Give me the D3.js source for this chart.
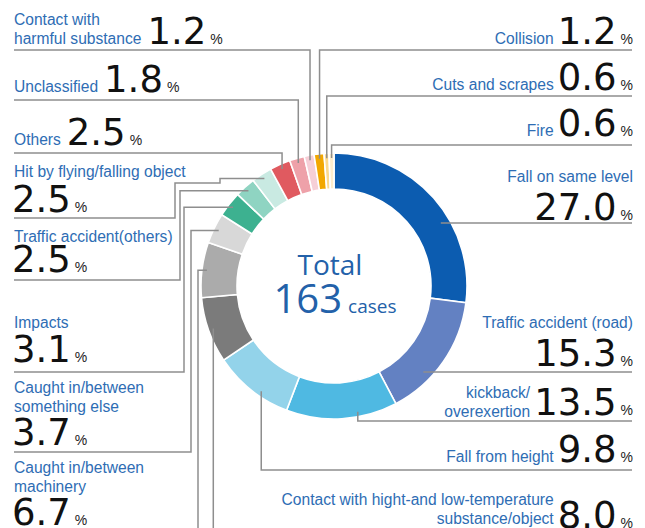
<!DOCTYPE html>
<html>
<head>
<meta charset="utf-8">
<script src="https://cdn.jsdelivr.net/npm/d3@7"></script>
<style>
  html, body { margin: 0; padding: 0; background: #fff; }
  svg { display: block; }
</style>
</head>
<body>
<svg id="chart" width="645" height="528"></svg>
<script>
// Accident types, clockwise from 12 o'clock ("\n" marks a line break in the label)
const categories = [
  "Fall on same level",
  "Traffic accident (road)",
  "kickback/\noverexertion",
  "Fall from height",
  "Contact with hight-and low-temperature\nsubstance/object",
  "Caught in/between\nmachinery",
  "Caught in/between\nsomething else",
  "Impacts",
  "Traffic accident(others)",
  "Hit by flying/falling object",
  "Others",
  "Unclassified",
  "Contact with\nharmful substance",
  "Collision",
  "Cuts and scrapes",
  "Fire"
];
// Share of all cases, in percent
const shares = [27.0, 15.3, 13.5, 9.8, 8.0, 6.7, 3.7, 3.1, 2.5, 2.5, 2.5, 1.8, 1.2, 1.2, 0.6, 0.6];
const totalCases = 163;

const sliceColors = [
  "#0c5cb0", "#6381c2", "#4fb9e2", "#93d3ea",
  "#7b7b7b", "#ababab", "#d8d8d8",
  "#3db190", "#8fd4c2", "#c9eae2",
  "#e05a60", "#eea1a9", "#f6cfd7",
  "#f2a700", "#fbd98f", "#fdedcd"
];

// Where each label sits and how its leader line is routed
// side: which margin; style: "stack" (name above number) or "inline" (name beside number)
// numY: number baseline; lineY: underline; route: h / v / hv; elbow: x of the vertical run
// jog: optional small step [x, y] that keeps the line clear of the label text
const labelLayout = [
  { side: "R", style: "stack",  labelY: 182, numY: 220, lineY: 223, route: "h" },
  { side: "R", style: "stack",  labelY: 328, numY: 366, lineY: 372, route: "h" },
  { side: "R", style: "inline", labelY: 417, numY: 415, lineY: 421, route: "v", t: 0.35 },
  { side: "R", style: "inline", labelY: 462, numY: 462, lineY: 470, route: "v", t: 0.39 },
  { side: "R", style: "inline", labelY: 524, numY: 528, lineY: 540, route: "v" },
  { side: "L", style: "stack",  labelY: 492, numY: 525, lineY: 540, route: "hv", elbow: 198 },
  { side: "L", style: "stack",  labelY: 412, numY: 445, lineY: 452, route: "hv", elbow: 191 },
  { side: "L", style: "stack",  labelY: 328, numY: 362, lineY: 372, route: "hv", elbow: 184 },
  { side: "L", style: "stack",  labelY: 242, numY: 272, lineY: 280, route: "hv", elbow: 180 },
  { side: "L", style: "stack",  labelY: 177, numY: 212, lineY: 218, route: "hv", elbow: 175, jog: [220, 183] },
  { side: "L", style: "inline", labelY: 145, numY: 145, lineY: 153, route: "v" },
  { side: "L", style: "inline", labelY: 92,  numY: 92,  lineY: 100, route: "v" },
  { side: "L", style: "inline", labelY: 44,  numY: 44,  lineY: 50,  route: "v" },
  { side: "R", style: "inline", labelY: 44,  numY: 44,  lineY: 50,  route: "v" },
  { side: "R", style: "inline", labelY: 90,  numY: 90,  lineY: 96,  route: "v" },
  { side: "R", style: "inline", labelY: 136, numY: 136, lineY: 145, route: "v" }
];

const W = 645, H = 528;
const cx = 334, cy = 286;
const rInner = 97, rOuter = 133;
const rAnchor = 128;      // radius where leader lines start
const leftEdge = 14, rightEdge = 633;
const lineGap = 19.5;

const labelFont = "'Liberation Sans', Arial, sans-serif";
const labelSize = 15.6;
const numFont = "'DejaVu Sans', sans-serif";
const blue = "#2e6db4";

const svg = d3.select("#chart");
svg.append("rect").attr("width", W).attr("height", H).attr("fill", "#fff");

const pie = d3.pie().sort(null).value(d => d)(shares);
const arc = d3.arc().innerRadius(rInner).outerRadius(rOuter);

const ring = svg.append("g").attr("transform", `translate(${cx},${cy})`);
ring.selectAll("path")
  .data(pie)
  .join("path")
  .attr("d", arc)
  .attr("fill", (d, i) => sliceColors[i])
  .attr("stroke", "#fff")
  .attr("stroke-width", 1.6);

// Centre caption
const center = svg.append("g").attr("fill", "#2361a9").attr("font-family", "'Open Sans', 'Noto Sans', sans-serif");
center.append("text").attr("x", 330).attr("y", 275).attr("text-anchor", "middle")
  .attr("font-size", 28).text("Total");
const totalLine = center.append("text").attr("y", 313);
totalLine.append("tspan").attr("font-size", 40).text(totalCases);
totalLine.append("tspan").attr("font-size", 19).attr("dx", 6).text("cases");
const tlw = totalLine.node().getComputedTextLength();
totalLine.attr("x", 332 - tlw / 2);

// Point on the ring at angle a (radians, clockwise from 12 o'clock)
function polar(a, r) {
  return [cx + r * Math.sin(a), cy - r * Math.cos(a)];
}

// Leader lines
const leaders = svg.append("g")
  .attr("fill", "none").attr("stroke", "#8e8e8e").attr("stroke-width", 1.5);

pie.forEach((d, i) => {
  const L = labelLayout[i];
  const t = L.t == null ? 0.5 : L.t;
  const a = d.startAngle + t * (d.endAngle - d.startAngle);
  const [ax, ay] = polar(a, rAnchor);
  const edge = L.side === "R" ? rightEdge - 1 : leftEdge;
  const p = d3.path();
  if (L.route === "h") {
    const dy = L.lineY - cy;
    const dx = Math.sqrt(Math.max(0, 124 * 124 - dy * dy)) * (L.side === "R" ? 1 : -1);
    p.moveTo(cx + dx, L.lineY);
    p.lineTo(edge, L.lineY);
  } else if (L.route === "v") {
    p.moveTo(ax, ay);
    p.lineTo(ax, L.lineY);
    p.lineTo(edge, L.lineY);
  } else {
    p.moveTo(ax, ay);
    let y = ay;
    if (L.jog) {
      p.lineTo(L.jog[0], y);
      y = L.jog[1];
      p.lineTo(L.jog[0], y);
    }
    p.lineTo(L.elbow, y);
    p.lineTo(L.elbow, L.lineY);
    p.lineTo(edge, L.lineY);
  }
  leaders.append("path").attr("d", p.toString());
});

// Labels
const labels = svg.append("g");

function addText(x, y, str, size, family, fill, anchor) {
  return labels.append("text")
    .attr("x", x).attr("y", y)
    .attr("font-size", size).attr("font-family", family)
    .attr("fill", fill).attr("text-anchor", anchor || "start")
    .text(str);
}

categories.forEach((name, i) => {
  const L = labelLayout[i];
  const lines = name.split("\n");
  const value = shares[i].toFixed(1);
  if (L.side === "R") {
    const pct = addText(rightEdge, L.numY, "%", 14, labelFont, "#222", "end");
    const pw = pct.node().getComputedTextLength();
    const numRight = rightEdge - pw - 4;
    const num = addText(numRight, L.numY, value, 37, numFont, "#111", "end");
    const nw = num.node().getComputedTextLength();
    const textRight = L.style === "stack" ? rightEdge : numRight - nw - 4;
    lines.forEach((ln, k) => {
      addText(textRight, L.labelY - (lines.length - 1 - k) * lineGap, ln, labelSize, labelFont, blue, "end");
    });
  } else {
    let lastW = 0;
    lines.forEach((ln, k) => {
      const tx = addText(leftEdge, L.labelY - (lines.length - 1 - k) * lineGap, ln, labelSize, labelFont, blue, "start");
      lastW = tx.node().getComputedTextLength();
    });
    const numX = L.style === "stack" ? leftEdge - 2 : leftEdge + lastW + 6;
    const num = addText(numX, L.numY, value, 37, numFont, "#111", "start");
    const nw = num.node().getComputedTextLength();
    addText(numX + nw + 4, L.numY, "%", 14, labelFont, "#222", "start");
  }
});
</script>
</body>
</html>
